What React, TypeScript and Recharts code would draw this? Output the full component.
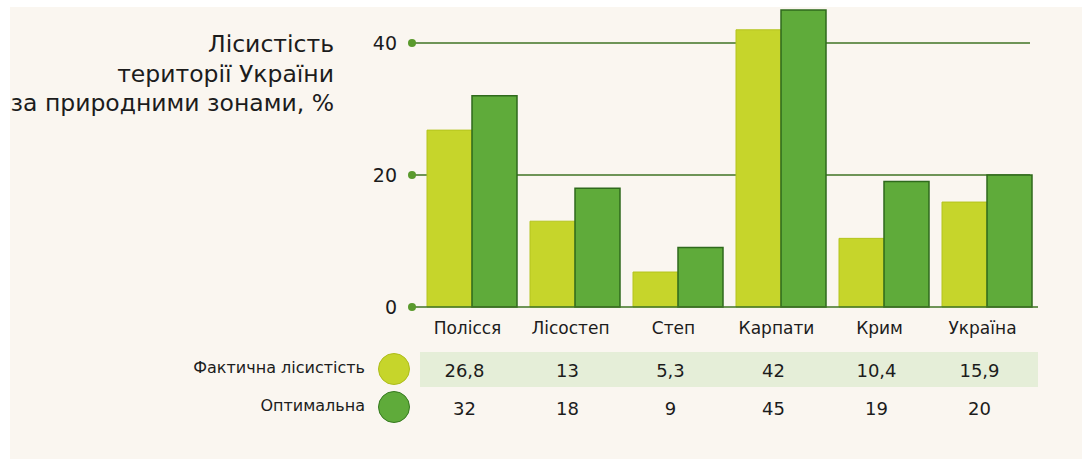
import { BarChart, Bar, XAxis, YAxis, CartesianGrid } from 'recharts'

const zones = ['Полісся', 'Лісостеп', 'Степ', 'Карпати', 'Крим', 'Україна']
const actual = [26.8, 13, 5.3, 42, 10.4, 15.9]
const optimal = [32, 18, 9, 45, 19, 20]
const yTicks = [0, 20, 40]

const data = zones.map((zone, i) => ({ zone, actual: actual[i], optimal: optimal[i] }))

const FONT = '"DejaVu Sans", sans-serif'
const TEXT = '#1c1c1c'
const LIGHT = '#c6d52b'
const DARK = '#5fab3a'
const LINE = '#3f7324'

const fmt = (v: number) => String(v).replace('.', ',')

function ValueTick(props: any) {
  const { x, y, payload } = props
  return (
    <g>
      <circle cx={x} cy={y} r={4} fill="#5a9a2d" />
      <text x={x - 15} y={y + 7} textAnchor="end" fontSize={19} fill={TEXT} fontFamily={FONT}>
        {payload.value}
      </text>
    </g>
  )
}

function ZoneTick(props: any) {
  const { x, y, payload } = props
  const i = payload.index
  return (
    <g fontFamily={FONT} fill={TEXT}>
      <text x={x - 4} y={y + 27} textAnchor="middle" fontSize={17}>
        {payload.value}
      </text>
      <rect x={x - 51.5} y={y + 45} width={103} height={35} fill="#e5eed8" />
      <text x={x - 7} y={y + 69.5} textAnchor="middle" fontSize={18}>
        {fmt(actual[i])}
      </text>
      <text x={x - 7} y={y + 107.5} textAnchor="middle" fontSize={18}>
        {fmt(optimal[i])}
      </text>
    </g>
  )
}

export default function App() {
  return (
    <div style={{ position: 'fixed', left: 0, top: 0, width: 1082, height: 461, background: '#fff', fontFamily: FONT }}>
      <div style={{ position: 'absolute', left: 10, top: 7, right: 0, bottom: 2, background: '#faf6f0' }} />

      <div
        style={{
          position: 'absolute',
          right: 1082 - 334,
          top: 30,
          textAlign: 'right',
          fontSize: 23.5,
          lineHeight: '29.5px',
          color: TEXT,
          whiteSpace: 'nowrap',
        }}
      >
        Лісистість
        <br />
        території України
        <br />
        за природними зонами, %
      </div>

      <div style={{ position: 'absolute', left: 0, top: 0 }}>
        <BarChart
          width={1082}
          height={461}
          data={data}
          margin={{ top: 10, right: 44, left: 340, bottom: 34 }}
          barSize={45}
          barGap={0}
        >
          {/* grid stops a little short of the last bar, as in the print */}
          <CartesianGrid
            vertical={false}
            horizontalValues={yTicks.filter((t) => t > 0)}
            width={618}
            stroke={LINE}
            strokeWidth={1.5}
          />
          <YAxis
            width={72}
            domain={[0, 45]}
            ticks={yTicks}
            axisLine={false}
            tickLine={false}
            tickSize={0}
            tickMargin={0}
            tick={<ValueTick />}
          />
          <XAxis
            dataKey="zone"
            height={120}
            interval={0}
            padding={{ left: 8, right: 0 }}
            axisLine={{ stroke: LINE, strokeWidth: 1.5 }}
            tickLine={false}
            tickSize={0}
            tickMargin={0}
            tick={<ZoneTick />}
          />
          <Bar dataKey="actual" fill={LIGHT} stroke="#b4c41e" strokeWidth={1} isAnimationActive={false} />
          <Bar dataKey="optimal" fill={DARK} stroke="#2f6a1c" strokeWidth={1.5} isAnimationActive={false} />
        </BarChart>
      </div>

      <div style={{ position: 'absolute', right: 1082 - 365, top: 358, fontSize: 16, color: TEXT, whiteSpace: 'nowrap' }}>
        Фактична лісистість
      </div>
      <div style={{ position: 'absolute', right: 1082 - 365, top: 396, fontSize: 16, color: TEXT, whiteSpace: 'nowrap' }}>
        Оптимальна
      </div>
      <div
        style={{
          position: 'absolute',
          left: 378,
          top: 353,
          width: 32,
          height: 32,
          borderRadius: '50%',
          background: LIGHT,
          border: '1.5px solid #aebd1c',
          boxSizing: 'border-box',
        }}
      />
      <div
        style={{
          position: 'absolute',
          left: 378,
          top: 391,
          width: 32,
          height: 32,
          borderRadius: '50%',
          background: DARK,
          border: '1.5px solid #367a20',
          boxSizing: 'border-box',
        }}
      />
    </div>
  )
}
